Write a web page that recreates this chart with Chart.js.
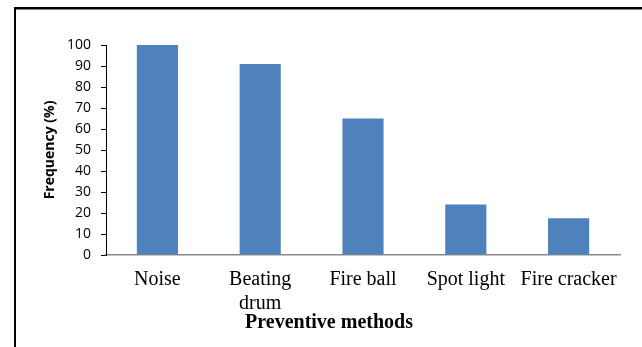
<!DOCTYPE html>
<html>
<head>
<meta charset="utf-8">
<script src="https://cdn.jsdelivr.net/npm/chart.js@4/dist/chart.umd.min.js"></script>
<style>
  html, body { margin: 0; padding: 0; background: #fff; }
  #wrap { width: 642px; height: 347px; }
</style>
</head>
<body>
<div id="wrap"><canvas id="c" width="642" height="347"></canvas></div>
<script>
// Deterrent methods and how often each was reported (%)
const categories = ['Noise', ['Beating', 'drum'], 'Fire ball', 'Spot light', 'Fire cracker'];
const frequency = [100, 91, 65, 24, 17.5];
const yMin = 0;
const yMax = 100;
const yStep = 10;

// White page with a black frame along the top and left edges
const framePlugin = {
  id: 'frame',
  beforeDraw(chart) {
    const ctx = chart.ctx;
    ctx.save();
    ctx.fillStyle = '#ffffff';
    ctx.fillRect(0, 0, chart.width, chart.height);
    ctx.restore();
  },
  afterDraw(chart) {
    const ctx = chart.ctx;
    ctx.save();
    ctx.fillStyle = '#000000';
    ctx.fillRect(14, 7, chart.width - 14, 2.5);
    ctx.fillRect(14, 7, 2, chart.height - 7);
    ctx.restore();
  }
};

new Chart(document.getElementById('c'), {
  type: 'bar',
  data: {
    labels: categories,
    datasets: [{
      data: frequency,
      backgroundColor: '#4F81BD',
      borderWidth: 0,
      categoryPercentage: 1.0,
      barPercentage: 0.4
    }]
  },
  options: {
    responsive: false,
    animation: false,
    devicePixelRatio: 1,
    layout: { padding: { left: 38, right: 22, top: 45, bottom: 14 } },
    plugins: {
      legend: { display: false },
      tooltip: { enabled: false },
      title: {
        display: true,
        position: 'bottom',
        text: 'Preventive methods',
        color: '#000',
        font: { family: '"Liberation Serif", "Times New Roman", serif', size: 20, weight: 'bold', lineHeight: 1.0 },
        padding: 0
      }
    },
    scales: {
      x: {
        grid: { display: false },
        border: { display: true, color: '#898989', width: 1.5 },
        ticks: {
          color: '#000',
          padding: 5,
          maxRotation: 0,
          autoSkip: false,
          font: { family: '"Liberation Serif", "Times New Roman", serif', size: 20, lineHeight: 1.2 }
        },
        afterFit(scale) { scale.height = 58; }
      },
      y: {
        min: yMin,
        max: yMax,
        grid: { display: true, drawOnChartArea: false, drawTicks: true, tickLength: 5, color: '#000', tickColor: '#000' },
        border: { display: true, color: '#000', width: 1 },
        ticks: {
          stepSize: yStep,
          color: '#000',
          padding: 10,
          font: { family: '"Open Sans", sans-serif', size: 14 }
        },
        title: {
          display: true,
          text: 'Frequency (%)',
          color: '#000',
          padding: { top: 4, bottom: 0 },
          font: { family: '"Open Sans", sans-serif', size: 14, weight: 'bold', lineHeight: 1.2 }
        },
        afterFit(scale) { scale.width = 68; }
      }
    }
  },
  plugins: [framePlugin]
});
</script>
</body>
</html>
